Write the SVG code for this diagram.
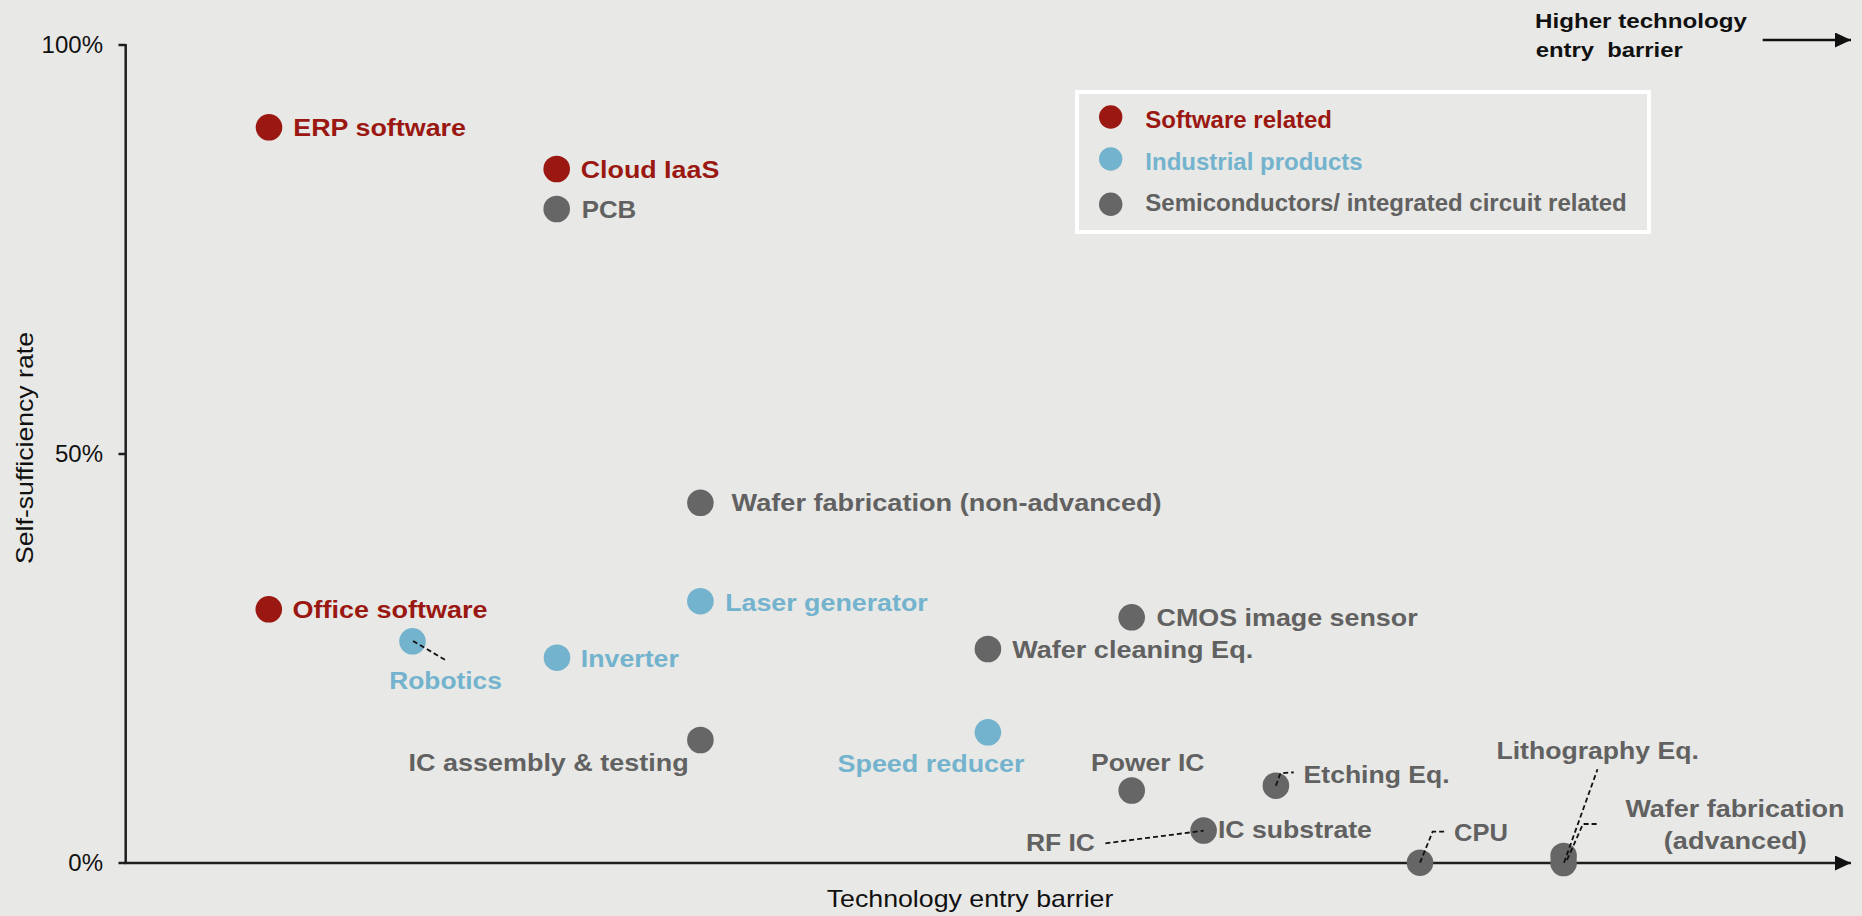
<svg xmlns="http://www.w3.org/2000/svg" width="1862" height="916" viewBox="0 0 1862 916">
<style>
text{font-family:"Liberation Sans",Arial,Helvetica,sans-serif}
.lbl{font-weight:bold;font-size:24.5px}
.leg{font-weight:bold;font-size:24px}
.ax{font-size:24px;fill:#111}
.hd{font-weight:bold;font-size:21px;fill:#111}
.tr{fill:#9a1811}
.tb{fill:#73b3cd}
.tg{fill:#616161}
.dr{fill:#9a1811}
.db{fill:#73b3cd}
.dg{fill:#666666}
.axis{stroke:#1e1e1e;stroke-width:2.5;fill:none}
.lead{stroke:#111;stroke-width:1.8;fill:none;stroke-dasharray:5 3}
</style>
<defs>
<marker id="arr" markerUnits="userSpaceOnUse" markerWidth="17" markerHeight="15" refX="16" refY="7.5" orient="auto">
<path d="M0,0 L16,7.5 L0,15 z" fill="#111"/>
</marker>
</defs>
<rect x="0" y="0" width="1862" height="916" fill="#e8e8e6"/>

<g id="axes">
<line class="axis" x1="125.7" y1="44" x2="125.7" y2="864"/>
<line class="axis" x1="124.5" y1="863" x2="1851" y2="863" marker-end="url(#arr)"/>
<line class="axis" x1="118.5" y1="45" x2="125.7" y2="45"/>
<line class="axis" x1="118.5" y1="454" x2="125.7" y2="454"/>
<line class="axis" x1="118.5" y1="863" x2="125.7" y2="863"/>
<text class="ax" x="103" y="52.5" text-anchor="end">100%</text>
<text class="ax" x="103" y="461.7" text-anchor="end">50%</text>
<text class="ax" x="103" y="871" text-anchor="end">0%</text>
<text class="ax" transform="translate(33.3,564) rotate(-90)" x="0" y="0" textLength="232" lengthAdjust="spacingAndGlyphs">Self-sufficiency rate</text>
<text class="ax" x="826.7" y="906.7" textLength="286.7" lengthAdjust="spacingAndGlyphs">Technology entry barrier</text>
</g>

<g id="direction">
<text class="hd" x="1535" y="28.3" textLength="212" lengthAdjust="spacingAndGlyphs">Higher technology</text>
<text class="hd" x="1535.7" y="56.7" textLength="147" lengthAdjust="spacingAndGlyphs" style="white-space:pre">entry  barrier</text>
<line x1="1762.7" y1="40" x2="1851" y2="40" stroke="#111" stroke-width="2.5" marker-end="url(#arr)"/>
</g>

<g id="legend">
<rect x="1077" y="92" width="572" height="140" fill="#e8e8e6" stroke="#ffffff" stroke-width="4"/>
<circle class="dr" cx="1110.7" cy="117" r="11.7"/>
<circle class="db" cx="1110.7" cy="159" r="11.7"/>
<circle class="dg" cx="1110.7" cy="204.3" r="11.7"/>
<text class="leg tr" x="1145.3" y="127.7">Software related</text>
<text class="leg tb" x="1145.3" y="170">Industrial products</text>
<text class="leg tg" x="1145.3" y="211">Semiconductors/ integrated circuit related</text>
</g>

<g id="erp-software">
<circle class="dr" cx="269" cy="127.3" r="13.3"/>
<text class="lbl tr" x="293.3" y="136" textLength="172.7" lengthAdjust="spacingAndGlyphs">ERP software</text>
</g>
<g id="cloud-iaas">
<circle class="dr" cx="556.7" cy="169" r="13.3"/>
<text class="lbl tr" x="580.7" y="177.7" textLength="138.6" lengthAdjust="spacingAndGlyphs">Cloud IaaS</text>
</g>
<g id="pcb">
<circle class="dg" cx="556.7" cy="209" r="13.3"/>
<text class="lbl tg" x="581.7" y="218.3" textLength="54.6" lengthAdjust="spacingAndGlyphs">PCB</text>
</g>
<g id="office-software">
<circle class="dr" cx="268.8" cy="609.3" r="13.3"/>
<text class="lbl tr" x="292.5" y="618.3" textLength="195" lengthAdjust="spacingAndGlyphs">Office software</text>
</g>
<g id="robotics">
<circle class="db" cx="412.5" cy="641.3" r="13.3"/>
<text class="lbl tb" x="389.3" y="688.7" textLength="112.5" lengthAdjust="spacingAndGlyphs">Robotics</text>
</g>
<g id="inverter">
<circle class="db" cx="557" cy="657.7" r="13.3"/>
<text class="lbl tb" x="580.8" y="666.7" textLength="98" lengthAdjust="spacingAndGlyphs">Inverter</text>
</g>
<g id="wafer-fab-non-advanced">
<circle class="dg" cx="700.4" cy="502.8" r="13.3"/>
<text class="lbl tg" x="731.6" y="511" textLength="430" lengthAdjust="spacingAndGlyphs">Wafer fabrication (non-advanced)</text>
</g>
<g id="laser-generator">
<circle class="db" cx="700.4" cy="601.2" r="13.3"/>
<text class="lbl tb" x="725.2" y="611" textLength="202.5" lengthAdjust="spacingAndGlyphs">Laser generator</text>
</g>
<g id="ic-assembly">
<circle class="dg" cx="700.4" cy="740" r="13.3"/>
<text class="lbl tg" x="408.6" y="771" textLength="280" lengthAdjust="spacingAndGlyphs">IC assembly &amp; testing</text>
</g>
<g id="wafer-cleaning">
<circle class="dg" cx="987.9" cy="649" r="13.3"/>
<text class="lbl tg" x="1012.2" y="658.3" textLength="241" lengthAdjust="spacingAndGlyphs">Wafer cleaning Eq.</text>
</g>
<g id="speed-reducer">
<circle class="db" cx="987.9" cy="732.3" r="13.3"/>
<text class="lbl tb" x="837.5" y="772" textLength="187" lengthAdjust="spacingAndGlyphs">Speed reducer</text>
</g>
<g id="cmos">
<circle class="dg" cx="1131.7" cy="617.3" r="13.3"/>
<text class="lbl tg" x="1156.6" y="626" textLength="261" lengthAdjust="spacingAndGlyphs">CMOS image sensor</text>
</g>
<g id="power-ic">
<circle class="dg" cx="1131.7" cy="790.5" r="13.3"/>
<text class="lbl tg" x="1091" y="771" textLength="113.5" lengthAdjust="spacingAndGlyphs">Power IC</text>
</g>
<g id="ic-substrate">
<circle class="dg" cx="1203.6" cy="830.5" r="13.3"/>
<text class="lbl tg" x="1217.9" y="837.7" textLength="154" lengthAdjust="spacingAndGlyphs">IC substrate</text>
</g>
<g id="rf-ic">
<text class="lbl tg" x="1025.9" y="851" textLength="69" lengthAdjust="spacingAndGlyphs">RF IC</text>
</g>
<g id="etching">
<circle class="dg" cx="1275.9" cy="785.7" r="13.3"/>
<text class="lbl tg" x="1303.6" y="783.3" textLength="146" lengthAdjust="spacingAndGlyphs">Etching Eq.</text>
</g>
<g id="cpu">
<circle class="dg" cx="1420" cy="862.7" r="13.3"/>
<text class="lbl tg" x="1454" y="841" textLength="54" lengthAdjust="spacingAndGlyphs">CPU</text>
</g>
<g id="lithography">
<circle class="dg" cx="1563.6" cy="856" r="13.3"/>
<text class="lbl tg" x="1496.4" y="759" textLength="202.5" lengthAdjust="spacingAndGlyphs">Lithography Eq.</text>
</g>
<g id="wafer-fab-advanced">
<circle class="dg" cx="1563.6" cy="863" r="13.3"/>
<text class="lbl tg" x="1625.4" y="817.3" textLength="219" lengthAdjust="spacingAndGlyphs">Wafer fabrication</text>
<text class="lbl tg" x="1663.8" y="849.3" textLength="143" lengthAdjust="spacingAndGlyphs">(advanced)</text>
</g>

<g id="connectors">
<path class="lead" d="M413,641 L445.4,660"/>
<path class="lead" d="M1105.4,843.3 L1203.6,830.7"/>
<path class="lead" d="M1275.9,785.7 L1280.4,773.3 L1293.8,772.3"/>
<path class="lead" d="M1420,862.7 L1432.6,831.7 L1444.4,831.7"/>
<path class="lead" d="M1564,862.7 L1597.5,769.3"/>
<path class="lead" d="M1567,860 L1583,824 L1596.8,824"/>
</g>
</svg>
